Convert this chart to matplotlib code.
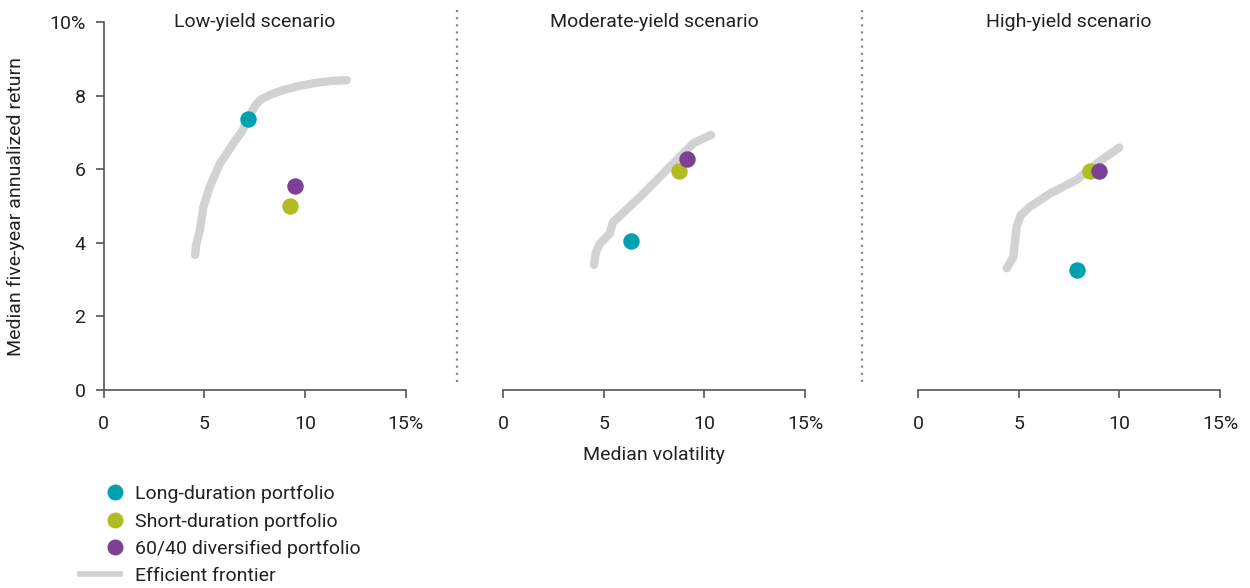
import matplotlib.pyplot as plt
from matplotlib.lines import Line2D
from matplotlib.legend_handler import HandlerLine2D

plt.rcParams['font.family'] = ['Roboto', 'DejaVu Sans']

scenarios = ["Low-yield scenario", "Moderate-yield scenario", "High-yield scenario"]

# efficient frontier (volatility, return) per scenario
low_fx = [4.55, 4.6, 4.79, 4.96, 5.3, 5.79, 6.45, 6.9, 7.19, 7.5, 7.77, 8.3, 8.93, 9.7, 10.59, 11.4, 12.08]
low_fy = [3.67, 3.95, 4.35, 4.98, 5.55, 6.16, 6.70, 7.05, 7.38, 7.7, 7.88, 8.03, 8.15, 8.26, 8.35, 8.40, 8.42]
mod_fx = [4.52, 4.6, 4.8, 5.07, 5.3, 5.45, 6.81, 8.46, 9.45, 10.0, 10.34]
mod_fy = [3.40, 3.72, 3.97, 4.12, 4.25, 4.55, 5.25, 6.16, 6.70, 6.85, 6.93]
high_fx = [4.41, 4.74, 4.82, 4.90, 5.1, 5.56, 6.56, 7.88, 8.88, 10.0]
high_fy = [3.31, 3.62, 4.05, 4.44, 4.75, 4.98, 5.34, 5.71, 6.16, 6.59]
frontier_x = [low_fx, mod_fx, high_fx]
frontier_y = [low_fy, mod_fy, high_fy]

# portfolios: long-duration, short-duration, 60/40
long_vol = [7.19, 6.34, 7.88]
long_ret = [7.36, 4.06, 3.25]
short_vol = [9.26, 8.73, 8.54]
short_ret = [5.00, 5.95, 5.96]
div_vol = [9.51, 9.12, 8.97]
div_ret = [5.53, 6.29, 5.96]

c_long = "#00a0af"
c_short = "#afbd22"
c_div = "#7e3f97"
c_front = "#d1d2d4"
c_axis = "#555555"
c_text = "#222222"
fs = 14


class RightMarker(HandlerLine2D):
    # legend dot sits near the right end of the handle, as in the original
    def get_xdata(self, legend, xdescent, ydescent, width, height, fontsize):
        x = [-xdescent + 0.87 * width]
        return x, x


fig = plt.figure(figsize=(12.5, 5.88), dpi=100)
W, H = 1250, 588
lefts = [103.5, 503, 918]
for i, x0 in enumerate(lefts):
    ax = fig.add_axes([x0 / W, 1 - 390 / H, 302 / W, 368 / H])
    ax.plot(frontier_x[i], frontier_y[i], color=c_front, lw=6,
            solid_capstyle='round', solid_joinstyle='round', zorder=1)
    ax.scatter(long_vol[i], long_ret[i], s=140, color=c_long, zorder=3, lw=0)
    ax.scatter(short_vol[i], short_ret[i], s=140, color=c_short, zorder=3, lw=0)
    ax.scatter(div_vol[i], div_ret[i], s=140, color=c_div, zorder=4, lw=0)
    ax.set_xlim(0, 15)
    ax.set_ylim(0, 10)
    ax.set_xticks([0, 5, 10, 15])
    ax.set_xticklabels(["0", "5", "10", "15%"])
    ax.spines['top'].set_visible(False)
    ax.spines['right'].set_visible(False)
    for s in ['bottom', 'left']:
        ax.spines[s].set_color(c_axis)
        ax.spines[s].set_linewidth(1.2)
    ax.tick_params(axis='x', length=6, width=1.2, color=c_axis, labelsize=fs,
                   labelcolor=c_text, pad=12)
    ax.text(0.5, 1.0, scenarios[i], transform=ax.transAxes, ha='center', va='center',
            fontsize=fs, color=c_text)
    ax.set_facecolor('none')
    if i == 0:
        ax.set_yticks([0, 2, 4, 6, 8, 10])
        ax.set_yticklabels(["0", "2", "4", "6", "8", "10%"])
        ax.tick_params(axis='y', length=6, width=1.2, color=c_axis, labelsize=fs,
                       labelcolor=c_text, pad=7)
        ax.set_ylabel("Median five-year annualized return", fontsize=fs, color=c_text)
        ax.yaxis.set_label_coords(-78 / 302, 0.5)
    else:
        ax.spines['left'].set_visible(False)
        ax.set_yticks([])

# dotted separators
for xs in [457, 862]:
    fig.add_artist(Line2D([xs / W, xs / W], [1 - 10 / H, 1 - 385 / H],
                          transform=fig.transFigure, color="#888888", lw=1.6,
                          linestyle=(0, (1, 2.2))))

fig.text(654 / W, 1 - 455 / H, "Median volatility", ha='center', va='center',
         fontsize=fs, color=c_text)

handles = [
    Line2D([], [], marker='o', ls='', color=c_long, markersize=11.5, mew=0),
    Line2D([], [], marker='o', ls='', color=c_short, markersize=11.5, mew=0),
    Line2D([], [], marker='o', ls='', color=c_div, markersize=11.5, mew=0),
    Line2D([], [], color=c_front, lw=4),
]
labels = ["Long-duration portfolio", "Short-duration portfolio",
          "60/40 diversified portfolio", "Efficient frontier"]
hmap = {h: RightMarker() for h in handles[:3]}
leg = fig.legend(handles, labels, loc='upper left', bbox_to_anchor=(80 / W, 1 - 485 / H),
                 frameon=False, fontsize=fs, handlelength=2.06, handletextpad=0.78,
                 labelspacing=0.48, borderaxespad=0, borderpad=0, handler_map=hmap)
for t in leg.get_texts():
    t.set_color(c_text)

fig.savefig("out.png", dpi=100)
